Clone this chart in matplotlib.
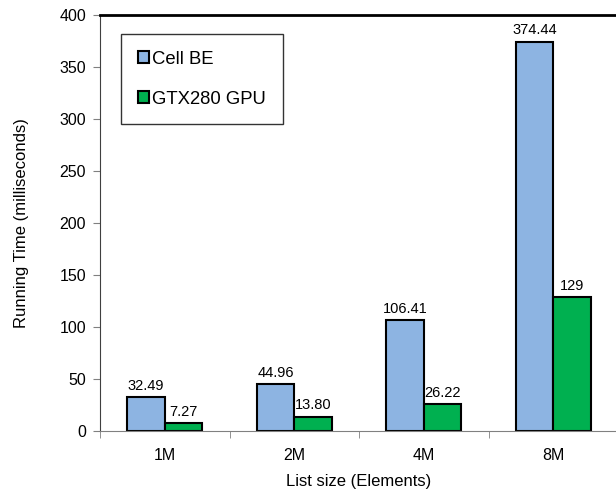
import numpy as np
import matplotlib
matplotlib.use("Agg")
import matplotlib.pyplot as plt

plt.rcParams['font.family'] = ['Liberation Sans', 'DejaVu Sans']

sizes = ["1M", "2M", "4M", "8M"]
cell_be = [32.49, 44.96, 106.41, 374.44]
gtx280 = [7.27, 13.80, 26.22, 129]
cell_labels = ["32.49", "44.96", "106.41", "374.44"]
gtx_labels = ["7.27", "13.80", "26.22", "129"]

fig = plt.figure(figsize=(6.16, 4.92), dpi=100)
# axes runs slightly past the right edge of the picture, as in the source
ax = fig.add_axes([100 / 616, 61 / 492, 518 / 616, 416 / 492])

x = np.arange(len(sizes))
w = 0.29
b1 = ax.bar(x - w / 2, cell_be, w, color="#8db4e2", edgecolor="black",
            linewidth=1.5, label="Cell BE")
b2 = ax.bar(x + w / 2, gtx280, w, color="#00b050", edgecolor="black",
            linewidth=1.5, label="GTX280 GPU")

for rect, lab in zip(b1, cell_labels):
    ax.text(rect.get_x() + rect.get_width() / 2, rect.get_height() + 4, lab,
            ha="center", va="bottom", fontsize=10.5)
for rect, lab in zip(b2, gtx_labels):
    ax.text(rect.get_x() + rect.get_width() / 2, rect.get_height() + 4, lab,
            ha="center", va="bottom", fontsize=10.5)

ax.set_xlim(-0.5, len(sizes) - 0.5)
ax.set_ylim(0, 400)
ax.set_yticks(range(0, 401, 50))
ax.set_xticks(x)
ax.set_xticklabels(sizes)
ax.set_xticks(np.arange(-0.5, len(sizes), 1), minor=True)
ax.tick_params(axis="x", which="major", length=0, pad=12, labelsize=11.5)
ax.tick_params(axis="x", which="minor", length=5, color="#808080", direction="out")
ax.tick_params(axis="y", length=5, color="#808080", labelsize=11.5, pad=5)

ax.spines["top"].set_linewidth(2)
ax.spines["top"].set_color("black")
ax.spines["right"].set_visible(False)
ax.spines["left"].set_color("#404040")
ax.spines["bottom"].set_color("#808080")

ax.set_ylabel("Running Time (milliseconds)", fontsize=12, labelpad=22)
ax.set_xlabel("List size (Elements)", fontsize=12, labelpad=8)

leg = ax.legend(loc="upper left", bbox_to_anchor=(21 / 518, 397 / 416),
                fontsize=13.3, frameon=True, fancybox=False, edgecolor="black",
                handlelength=0.6, handleheight=0.6, handletextpad=0.2,
                labelspacing=1.25, borderpad=0.9, borderaxespad=0)
leg.get_frame().set_linewidth(1)

fig.savefig("out.png", dpi=100)
